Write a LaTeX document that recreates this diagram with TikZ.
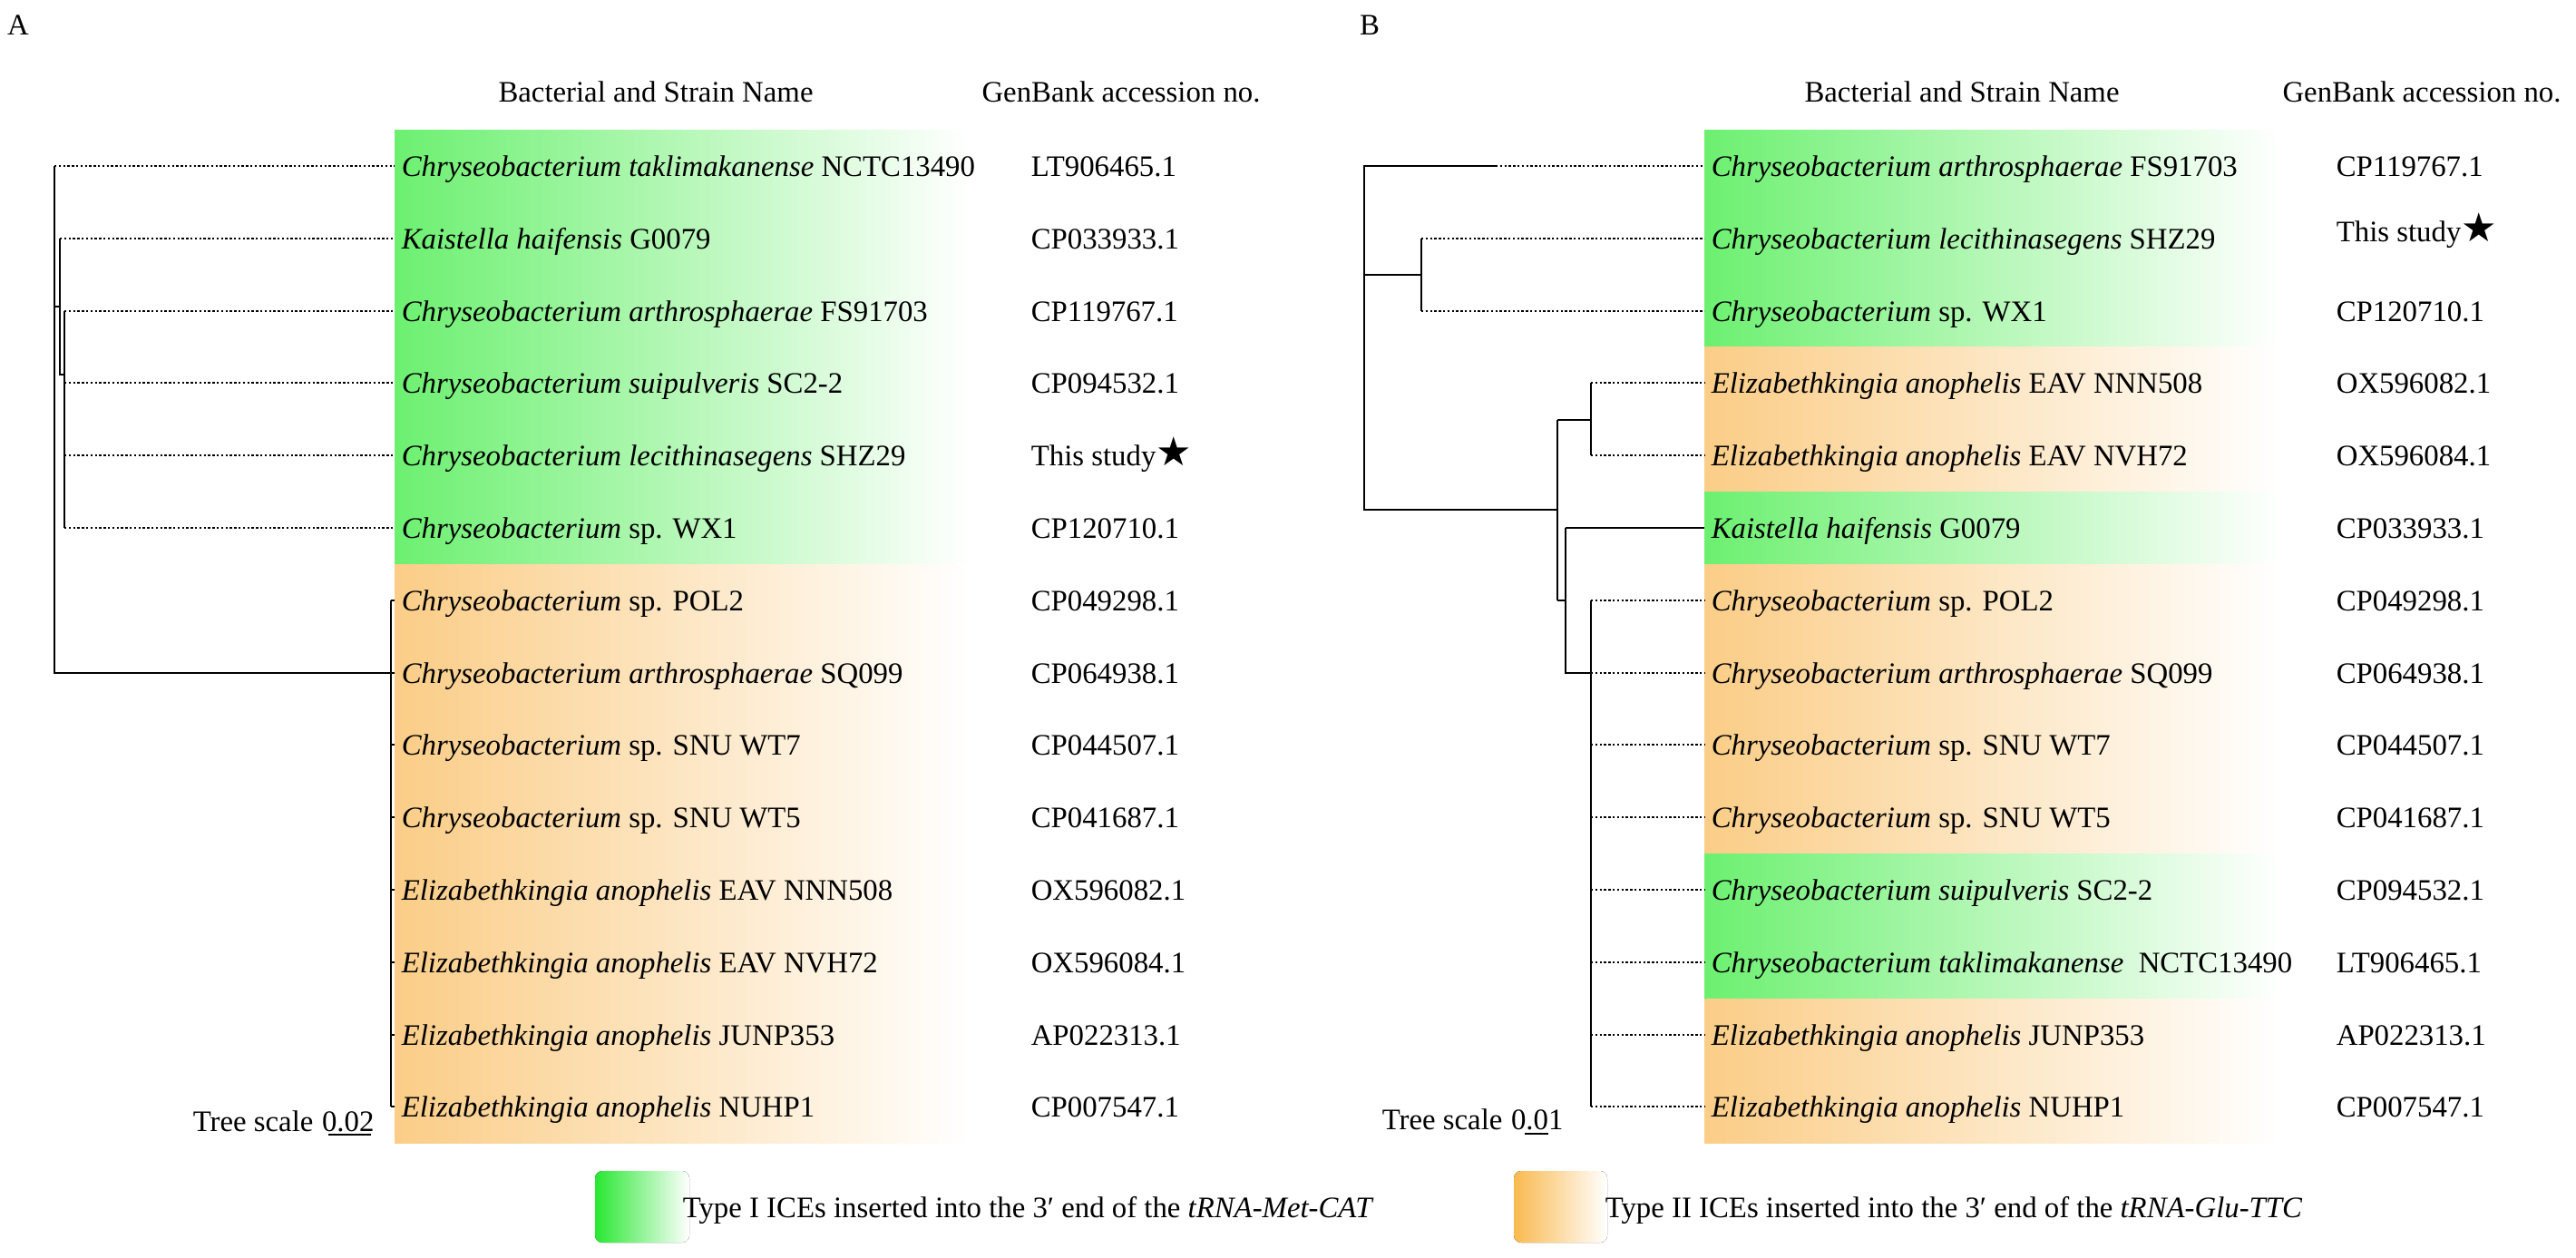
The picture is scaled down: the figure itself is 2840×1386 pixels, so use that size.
\documentclass[tikz,border=0pt]{standalone}
\usepackage{fontspec}
\setmainfont{Liberation Serif}
\newfontfamily\starfont{DejaVu Sans}
\usepackage{tikz}
\usetikzlibrary{
    positioning
}
\definecolor{icegreen}{RGB}{108,240,112}
\definecolor{iceorange}{RGB}{251,205,135}
\definecolor{keygreen}{RGB}{40,232,50}
\definecolor{keyorange}{RGB}{249,186,80}
\newcommand{\thisstudy}{This study{\starfont\fontsize{11}{10}\selectfont ★}}
\tikzset{
    every node/.style={font=\fontsize{8.2}{9.8}\selectfont, inner sep=0pt, text height=5.5pt, text depth=0pt},
    taxon/.style={anchor=west, inner xsep=1.75pt},
    acc/.style={anchor=west},
    branchline/.style={line width=0.4pt},
    leafline/.style={line width=0.4pt, dash pattern=on 0.6pt off 0.6pt},
    keybox/.style={rounded corners=2pt, right color=white}
}
\begin{document}
\begin{tikzpicture}[x=0.25pt,y=-0.25pt]
    \useasboundingbox (0,0) rectangle (2840,1386);

    % panel A
    \node (pa) at (20,27) {A};
    \node (hna) at (723,101) {Bacterial and Strain Name};
    \node (hga) at (1236,101) {GenBank accession no.};

    \fill[left color=icegreen, right color=white] (435,143) rectangle (1069,622);
    \fill[left color=iceorange, right color=white] (435,622) rectangle (1069,1260);

    \node[taxon] (ta1) at (435,183) {\textit{Chryseobacterium taklimakanense} NCTC13490};
    \node[taxon] (ta2) at (435,263) {\textit{Kaistella haifensis} G0079};
    \node[taxon] (ta3) at (435,343) {\textit{Chryseobacterium arthrosphaerae} FS91703};
    \node[taxon] (ta4) at (435,422) {\textit{Chryseobacterium suipulveris} SC2-2};
    \node[taxon] (ta5) at (435,502) {\textit{Chryseobacterium lecithinasegens} SHZ29};
    \node[taxon] (ta6) at (435,582) {\textit{Chryseobacterium} sp. WX1};
    \node[taxon] (ta7) at (435,662) {\textit{Chryseobacterium} sp. POL2};
    \node[taxon] (ta8) at (435,742) {\textit{Chryseobacterium arthrosphaerae} SQ099};
    \node[taxon] (ta9) at (435,821) {\textit{Chryseobacterium} sp. SNU WT7};
    \node[taxon] (ta10) at (435,901) {\textit{Chryseobacterium} sp. SNU WT5};
    \node[taxon] (ta11) at (435,981) {\textit{Elizabethkingia anophelis} EAV NNN508};
    \node[taxon] (ta12) at (435,1061) {\textit{Elizabethkingia anophelis} EAV NVH72};
    \node[taxon] (ta13) at (435,1141) {\textit{Elizabethkingia anophelis} JUNP353};
    \node[taxon] (ta14) at (435,1220) {\textit{Elizabethkingia anophelis} NUHP1};

    \node[acc] (ga1) at (1136,183) {LT906465.1};
    \node[acc] (ga2) at (1136,263) {CP033933.1};
    \node[acc] (ga3) at (1136,343) {CP119767.1};
    \node[acc] (ga4) at (1136,422) {CP094532.1};
    \node[acc] (ga5) at (1136,502) {\thisstudy};
    \node[acc] (ga6) at (1136,582) {CP120710.1};
    \node[acc] (ga7) at (1136,662) {CP049298.1};
    \node[acc] (ga8) at (1136,742) {CP064938.1};
    \node[acc] (ga9) at (1136,821) {CP044507.1};
    \node[acc] (ga10) at (1136,901) {CP041687.1};
    \node[acc] (ga11) at (1136,981) {OX596082.1};
    \node[acc] (ga12) at (1136,1061) {OX596084.1};
    \node[acc] (ga13) at (1136,1141) {AP022313.1};
    \node[acc] (ga14) at (1136,1220) {CP007547.1};

    % tree A
    \coordinate (ra) at (60,742);
    \coordinate (ka) at (66,338);
    \coordinate (sa) at (71,413);
    \coordinate (oa) at (431,742);
    \draw[branchline] (ta1.west -| ra) -- (ra) -- (oa);
    \draw[branchline] (ka -| ra) -- (ka);
    \draw[branchline] (ta2.west -| ka) -- (sa -| ka) -- (sa);
    \draw[branchline] (ta3.west -| sa) -- (ta6.west -| sa);
    \draw[branchline] (ta7.west -| oa) -- (ta14.west -| oa);
    \draw[leafline] (ta1.west -| ra) -- (ta1.west);
    \draw[leafline] (ta2.west -| ka) -- (ta2.west);
    \draw[leafline] (ta3.west -| sa) -- (ta3.west);
    \draw[leafline] (ta4.west -| sa) -- (ta4.west);
    \draw[leafline] (ta5.west -| sa) -- (ta5.west);
    \draw[leafline] (ta6.west -| sa) -- (ta6.west);
    \foreach \i in {7,...,14}
        \draw[branchline] (ta\i.west -| oa) -- (ta\i.west);

    \node[anchor=west] (tsa) at (212,1236) {Tree scale};
    \node[right=2pt of tsa] (sva) {0.02};
    \draw[branchline] (362,1251) -- (409,1251);

    % panel B
    \node (pb) at (1510,27) {B};
    \node (hnb) at (2163,101) {Bacterial and Strain Name};
    \node (hgb) at (2670,101) {GenBank accession no.};

    \fill[left color=icegreen, right color=white] (1879,143) rectangle (2514,382);
    \fill[left color=iceorange, right color=white] (1879,382) rectangle (2514,542);
    \fill[left color=icegreen, right color=white] (1879,542) rectangle (2514,622);
    \fill[left color=iceorange, right color=white] (1879,622) rectangle (2514,941);
    \fill[left color=icegreen, right color=white] (1879,941) rectangle (2514,1101);
    \fill[left color=iceorange, right color=white] (1879,1101) rectangle (2514,1260);

    \node[taxon] (tb1) at (1879,183) {\textit{Chryseobacterium arthrosphaerae} FS91703};
    \node[taxon] (tb2) at (1879,263) {\textit{Chryseobacterium lecithinasegens} SHZ29};
    \node[taxon] (tb3) at (1879,343) {\textit{Chryseobacterium} sp. WX1};
    \node[taxon] (tb4) at (1879,422) {\textit{Elizabethkingia anophelis} EAV NNN508};
    \node[taxon] (tb5) at (1879,502) {\textit{Elizabethkingia anophelis} EAV NVH72};
    \node[taxon] (tb6) at (1879,582) {\textit{Kaistella haifensis} G0079};
    \node[taxon] (tb7) at (1879,662) {\textit{Chryseobacterium} sp. POL2};
    \node[taxon] (tb8) at (1879,742) {\textit{Chryseobacterium arthrosphaerae} SQ099};
    \node[taxon] (tb9) at (1879,821) {\textit{Chryseobacterium} sp. SNU WT7};
    \node[taxon] (tb10) at (1879,901) {\textit{Chryseobacterium} sp. SNU WT5};
    \node[taxon] (tb11) at (1879,981) {\textit{Chryseobacterium suipulveris} SC2-2};
    \node[taxon] (tb12) at (1879,1061) {\textit{Chryseobacterium taklimakanense}\ \ NCTC13490};
    \node[taxon] (tb13) at (1879,1141) {\textit{Elizabethkingia anophelis} JUNP353};
    \node[taxon] (tb14) at (1879,1220) {\textit{Elizabethkingia anophelis} NUHP1};

    \node[acc] (gb1) at (2575,183) {CP119767.1};
    \node[acc] (gb2) at (2575,255) {\thisstudy};
    \node[acc] (gb3) at (2575,343) {CP120710.1};
    \node[acc] (gb4) at (2575,422) {OX596082.1};
    \node[acc] (gb5) at (2575,502) {OX596084.1};
    \node[acc] (gb6) at (2575,582) {CP033933.1};
    \node[acc] (gb7) at (2575,662) {CP049298.1};
    \node[acc] (gb8) at (2575,742) {CP064938.1};
    \node[acc] (gb9) at (2575,821) {CP044507.1};
    \node[acc] (gb10) at (2575,901) {CP041687.1};
    \node[acc] (gb11) at (2575,981) {CP094532.1};
    \node[acc] (gb12) at (2575,1061) {LT906465.1};
    \node[acc] (gb13) at (2575,1141) {AP022313.1};
    \node[acc] (gb14) at (2575,1220) {CP007547.1};

    % tree B
    \coordinate (rb) at (1504,562);
    \coordinate (cb) at (1649,183);
    \coordinate (lb) at (1567,303);
    \coordinate (mb) at (1717,562);
    \coordinate (eb) at (1754,463);
    \coordinate (kb) at (1726,662);
    \coordinate (qb) at (1754,742);
    \draw[branchline] (cb) -- (cb -| rb) -- (rb) -- (mb);
    \draw[branchline] (lb -| rb) -- (lb);
    \draw[branchline] (tb2.west -| lb) -- (tb3.west -| lb);
    \draw[branchline] (mb |- eb) -- (mb |- kb);
    \draw[branchline] (eb -| mb) -- (eb);
    \draw[branchline] (tb4.west -| eb) -- (tb5.west -| eb);
    \draw[branchline] (kb -| mb) -- (kb);
    \draw[branchline] (tb6.west -| kb) -- (qb -| kb) -- (qb);
    \draw[branchline] (tb6.west -| kb) -- (tb6.west);
    \draw[branchline] (tb7.west -| qb) -- (tb14.west -| qb);
    \draw[leafline] (cb) -- (tb1.west);
    \draw[leafline] (tb2.west -| lb) -- (tb2.west);
    \draw[leafline] (tb3.west -| lb) -- (tb3.west);
    \draw[leafline] (tb4.west -| eb) -- (tb4.west);
    \draw[leafline] (tb5.west -| eb) -- (tb5.west);
    \foreach \i in {7,...,14}
        \draw[leafline] (tb\i.west -| qb) -- (tb\i.west);

    \node[anchor=west] (tsb) at (1523,1234) {Tree scale};
    \node[right=2pt of tsb] (svb) {0.01};
    \draw[branchline] (1681,1250) -- (1707,1250);

    % legend
    \fill[keybox, left color=keygreen] (656,1291) rectangle (760,1370);
    \node[anchor=west] (kga) at (752,1331) {Type I ICEs inserted into the 3′ end of the \textit{tRNA-Met-CAT}};
    \fill[keybox, left color=keyorange] (1669,1291) rectangle (1772,1370);
    \node[anchor=west] (kgb) at (1769,1331) {Type II ICEs inserted into the 3′ end of the \textit{tRNA-Glu-TTC}};
\end{tikzpicture}
\end{document}
